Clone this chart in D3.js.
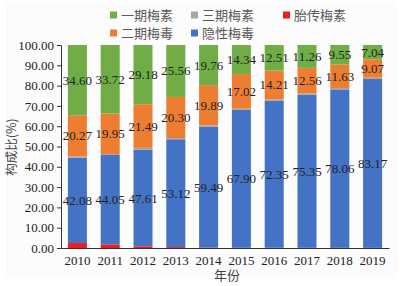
<!DOCTYPE html>
<html>
<head>
<meta charset="utf-8">
<script src="https://cdn.jsdelivr.net/npm/d3@7"></script>
<style>
  body { margin: 0; background: #fff; }
  svg { display: block; }
</style>
</head>
<body>
<div id="chart"></div>
<script>
// data
const years = ["2010", "2011", "2012", "2013", "2014", "2015", "2016", "2017", "2018", "2019"];
const congenital = [2.45, 1.78, 0.85, 0.45, 0.20, 0.12, 0.13, 0.10, 0.08, 0.07];   // 胎传梅素
const latent     = [42.08, 44.05, 47.61, 53.12, 59.49, 67.90, 72.35, 75.35, 78.06, 83.17]; // 隐性梅毒
const tertiary   = [0.60, 0.50, 0.87, 0.57, 0.66, 0.62, 0.80, 0.73, 0.68, 0.65];   // 三期梅素
const secondary  = [20.27, 19.95, 21.49, 20.30, 19.89, 17.02, 14.21, 12.56, 11.63, 9.07]; // 二期梅毒
const primary    = [34.60, 33.72, 29.18, 25.56, 19.76, 14.34, 12.51, 11.26, 9.55, 7.04]; // 一期梅素
const yTicks = [0, 10, 20, 30, 40, 50, 60, 70, 80, 90, 100];

// stacking order, bottom to top
const keys = ["胎传梅素", "隐性梅毒", "三期梅素", "二期梅毒", "一期梅素"];
const labelled = ["隐性梅毒", "二期梅毒", "一期梅素"];
const color = d3.scaleOrdinal()
    .domain(keys)
    .range(["#ee1c1c", "#4472c4", "#a5a5a5", "#ed7d31", "#70ad47"]);

const table = years.map((y, i) => ({
  year: y,
  "胎传梅素": congenital[i],
  "隐性梅毒": latent[i],
  "三期梅素": tertiary[i],
  "二期梅毒": secondary[i],
  "一期梅素": primary[i]
}));

const W = 404, H = 286;
const svg = d3.select("#chart").append("svg")
    .attr("width", W)
    .attr("height", H);

svg.append("rect")
    .attr("x", 6).attr("y", 2)
    .attr("width", W - 12).attr("height", H - 10)
    .attr("fill", "#fcfcfc");

const serif = "'Liberation Serif', 'Times New Roman', serif";
const cjk = "'Noto Sans CJK SC', sans-serif";

const x = d3.scaleBand()
    .domain(years)
    .range([61, 389])
    .paddingInner(0.42)
    .paddingOuter(0.21);

const y = d3.scaleLinear()
    .domain([0, 100])
    .range([248, 45]);

const series = d3.stack().keys(keys)(table);

// bars
svg.append("g")
  .selectAll("g")
  .data(series)
  .join("g")
    .attr("fill", d => color(d.key))
  .selectAll("rect")
  .data(d => d)
  .join("rect")
    .attr("x", d => x(d.data.year))
    .attr("y", d => y(d[1]))
    .attr("width", x.bandwidth())
    .attr("height", d => y(d[0]) - y(d[1]));

// value labels
svg.append("g")
  .selectAll("g")
  .data(series.filter(s => labelled.includes(s.key)))
  .join("g")
  .selectAll("text")
  .data(d => d.map(v => ({ v, key: d.key })))
  .join("text")
    .attr("x", d => x(d.v.data.year) + x.bandwidth() / 2)
    .attr("y", d => (y(d.v[0]) + y(d.v[1])) / 2)
    .attr("dy", "0.35em")
    .attr("text-anchor", "middle")
    .style("font-family", serif)
    .style("font-size", "13px")
    .attr("fill", "#222")
    .text(d => d.v.data[d.key].toFixed(2));

// axes
const yAxis = svg.append("g")
    .attr("transform", "translate(61,0)")
    .call(d3.axisLeft(y).tickValues(yTicks).tickFormat(d3.format(".2f")).tickSizeOuter(0).tickSize(4));
yAxis.select(".domain").attr("stroke", "#333");
yAxis.selectAll(".tick line").attr("stroke", "#333");
yAxis.selectAll("text")
    .style("font-family", serif)
    .style("font-size", "13px")
    .attr("fill", "#222");

const xAxis = svg.append("g")
    .attr("transform", "translate(0,248)")
    .call(d3.axisBottom(x).tickSize(0).tickPadding(8));
xAxis.select(".domain").attr("stroke", "#333");
xAxis.selectAll("text")
    .style("font-family", serif)
    .style("font-size", "13px")
    .attr("fill", "#222");

// axis titles
svg.append("text")
    .attr("transform", "translate(16,147) rotate(-90)")
    .attr("text-anchor", "middle")
    .style("font-family", cjk)
    .style("font-size", "12.5px")
    .attr("fill", "#444")
    .text("构成比(%)");

svg.append("text")
    .attr("x", 227).attr("y", 280)
    .attr("text-anchor", "middle")
    .style("font-family", cjk)
    .style("font-size", "13px")
    .attr("fill", "#444")
    .text("年份");

// legend
const legendItems = [
  { key: "一期梅素", col: 0, row: 0 },
  { key: "三期梅素", col: 1, row: 0 },
  { key: "胎传梅素", col: 2, row: 0 },
  { key: "二期梅毒", col: 0, row: 1 },
  { key: "隐性梅毒", col: 1, row: 1 }
];
const colX = [110, 191, 283];
const legend = svg.append("g")
  .selectAll("g")
  .data(legendItems)
  .join("g")
    .attr("transform", d => `translate(${colX[d.col]},${15 + d.row * 18})`);
legend.append("rect")
    .attr("x", 0).attr("y", -3.5)
    .attr("width", 7).attr("height", 7)
    .attr("fill", d => color(d.key));
legend.append("text")
    .attr("x", 11)
    .attr("dy", "0.36em")
    .style("font-family", cjk)
    .style("font-size", "13px")
    .attr("fill", "#595959")
    .text(d => d.key);
</script>
</body>
</html>
